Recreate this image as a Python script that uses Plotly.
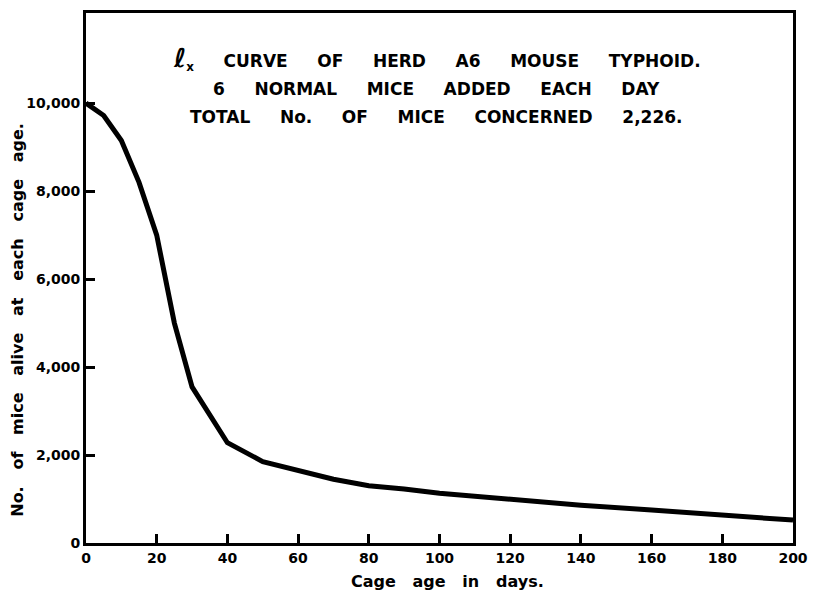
import plotly.graph_objects as go

# cage age (days) and number of mice alive (l_x, per 10,000)
cage_age = [0, 5, 10, 15, 20, 25, 30, 40, 50, 60, 70, 80, 90, 100, 120, 140, 160, 180, 200]
alive = [10000, 9720, 9150, 8200, 7000, 5000, 3550, 2280, 1850, 1650, 1450, 1300, 1230,
         1130, 990, 860, 750, 630, 520]

x_ticks = [0, 20, 40, 60, 80, 100, 120, 140, 160, 180, 200]
y_ticks = [0, 2000, 4000, 6000, 8000, 10000]
y_tick_text = ["0", "2,000", "4,000", "6,000", "8,000", "10,000"]

FONT = "DejaVu Sans"


def spaced(words, n):
    return ("\u00a0" * n).join(words)


fig = go.Figure(
    go.Scatter(
        x=cage_age,
        y=alive,
        mode="lines",
        line=dict(color="black", width=5),
        hoverinfo="skip",
    )
)

axis_common = dict(
    showline=True,
    linecolor="black",
    linewidth=3,
    mirror=True,
    showgrid=False,
    zeroline=False,
    ticks="inside",
    ticklen=9,
    tickwidth=2.5,
    tickcolor="black",
    tickfont=dict(family=FONT, size=14, color="black", weight="bold"),
)

fig.update_xaxes(range=[0, 200], tickvals=x_ticks, ticklabelstandoff=0, **axis_common)
fig.update_yaxes(range=[0, 12050], tickvals=y_ticks, ticktext=y_tick_text, **axis_common)

title_lines = [
    spaced(["<span style='font-size:26px'><i>ℓ</i></span><sub>x</sub>", "CURVE", "OF",
            "HERD", "A6", "MOUSE", "TYPHOID."], 5),
    spaced(["6", "NORMAL", "MICE", "ADDED", "EACH", "DAY"], 5),
    spaced(["TOTAL", "No.", "OF", "MICE", "CONCERNED", "2,226."], 5),
]
title_y = [0.914, 0.856, 0.803]
for line, ty in zip(title_lines, title_y):
    fig.add_annotation(
        text=line,
        xref="paper", yref="paper", x=0.496, y=ty,
        xanchor="center", yanchor="middle", showarrow=False,
        font=dict(family=FONT, size=17, color="black", weight="bold"),
    )

fig.add_annotation(
    text=spaced(["No.", "of", "mice", "alive", "at", "each", "cage", "age."], 3),
    xref="paper", yref="paper", x=-0.097, y=0.422,
    xanchor="center", yanchor="middle", textangle=-90, showarrow=False,
    font=dict(family=FONT, size=16, color="black", weight="bold"),
)

fig.add_annotation(
    text=spaced(["Cage", "age", "in", "days."], 3),
    xref="paper", yref="paper", x=0.511, y=-0.073,
    xanchor="center", yanchor="middle", showarrow=False,
    font=dict(family=FONT, size=16, color="black", weight="bold"),
)

fig.update_layout(
    width=809,
    height=588,
    margin=dict(l=78, r=24, t=2, b=53),
    paper_bgcolor="white",
    plot_bgcolor="white",
    showlegend=False,
)

fig.write_html("out.html")
